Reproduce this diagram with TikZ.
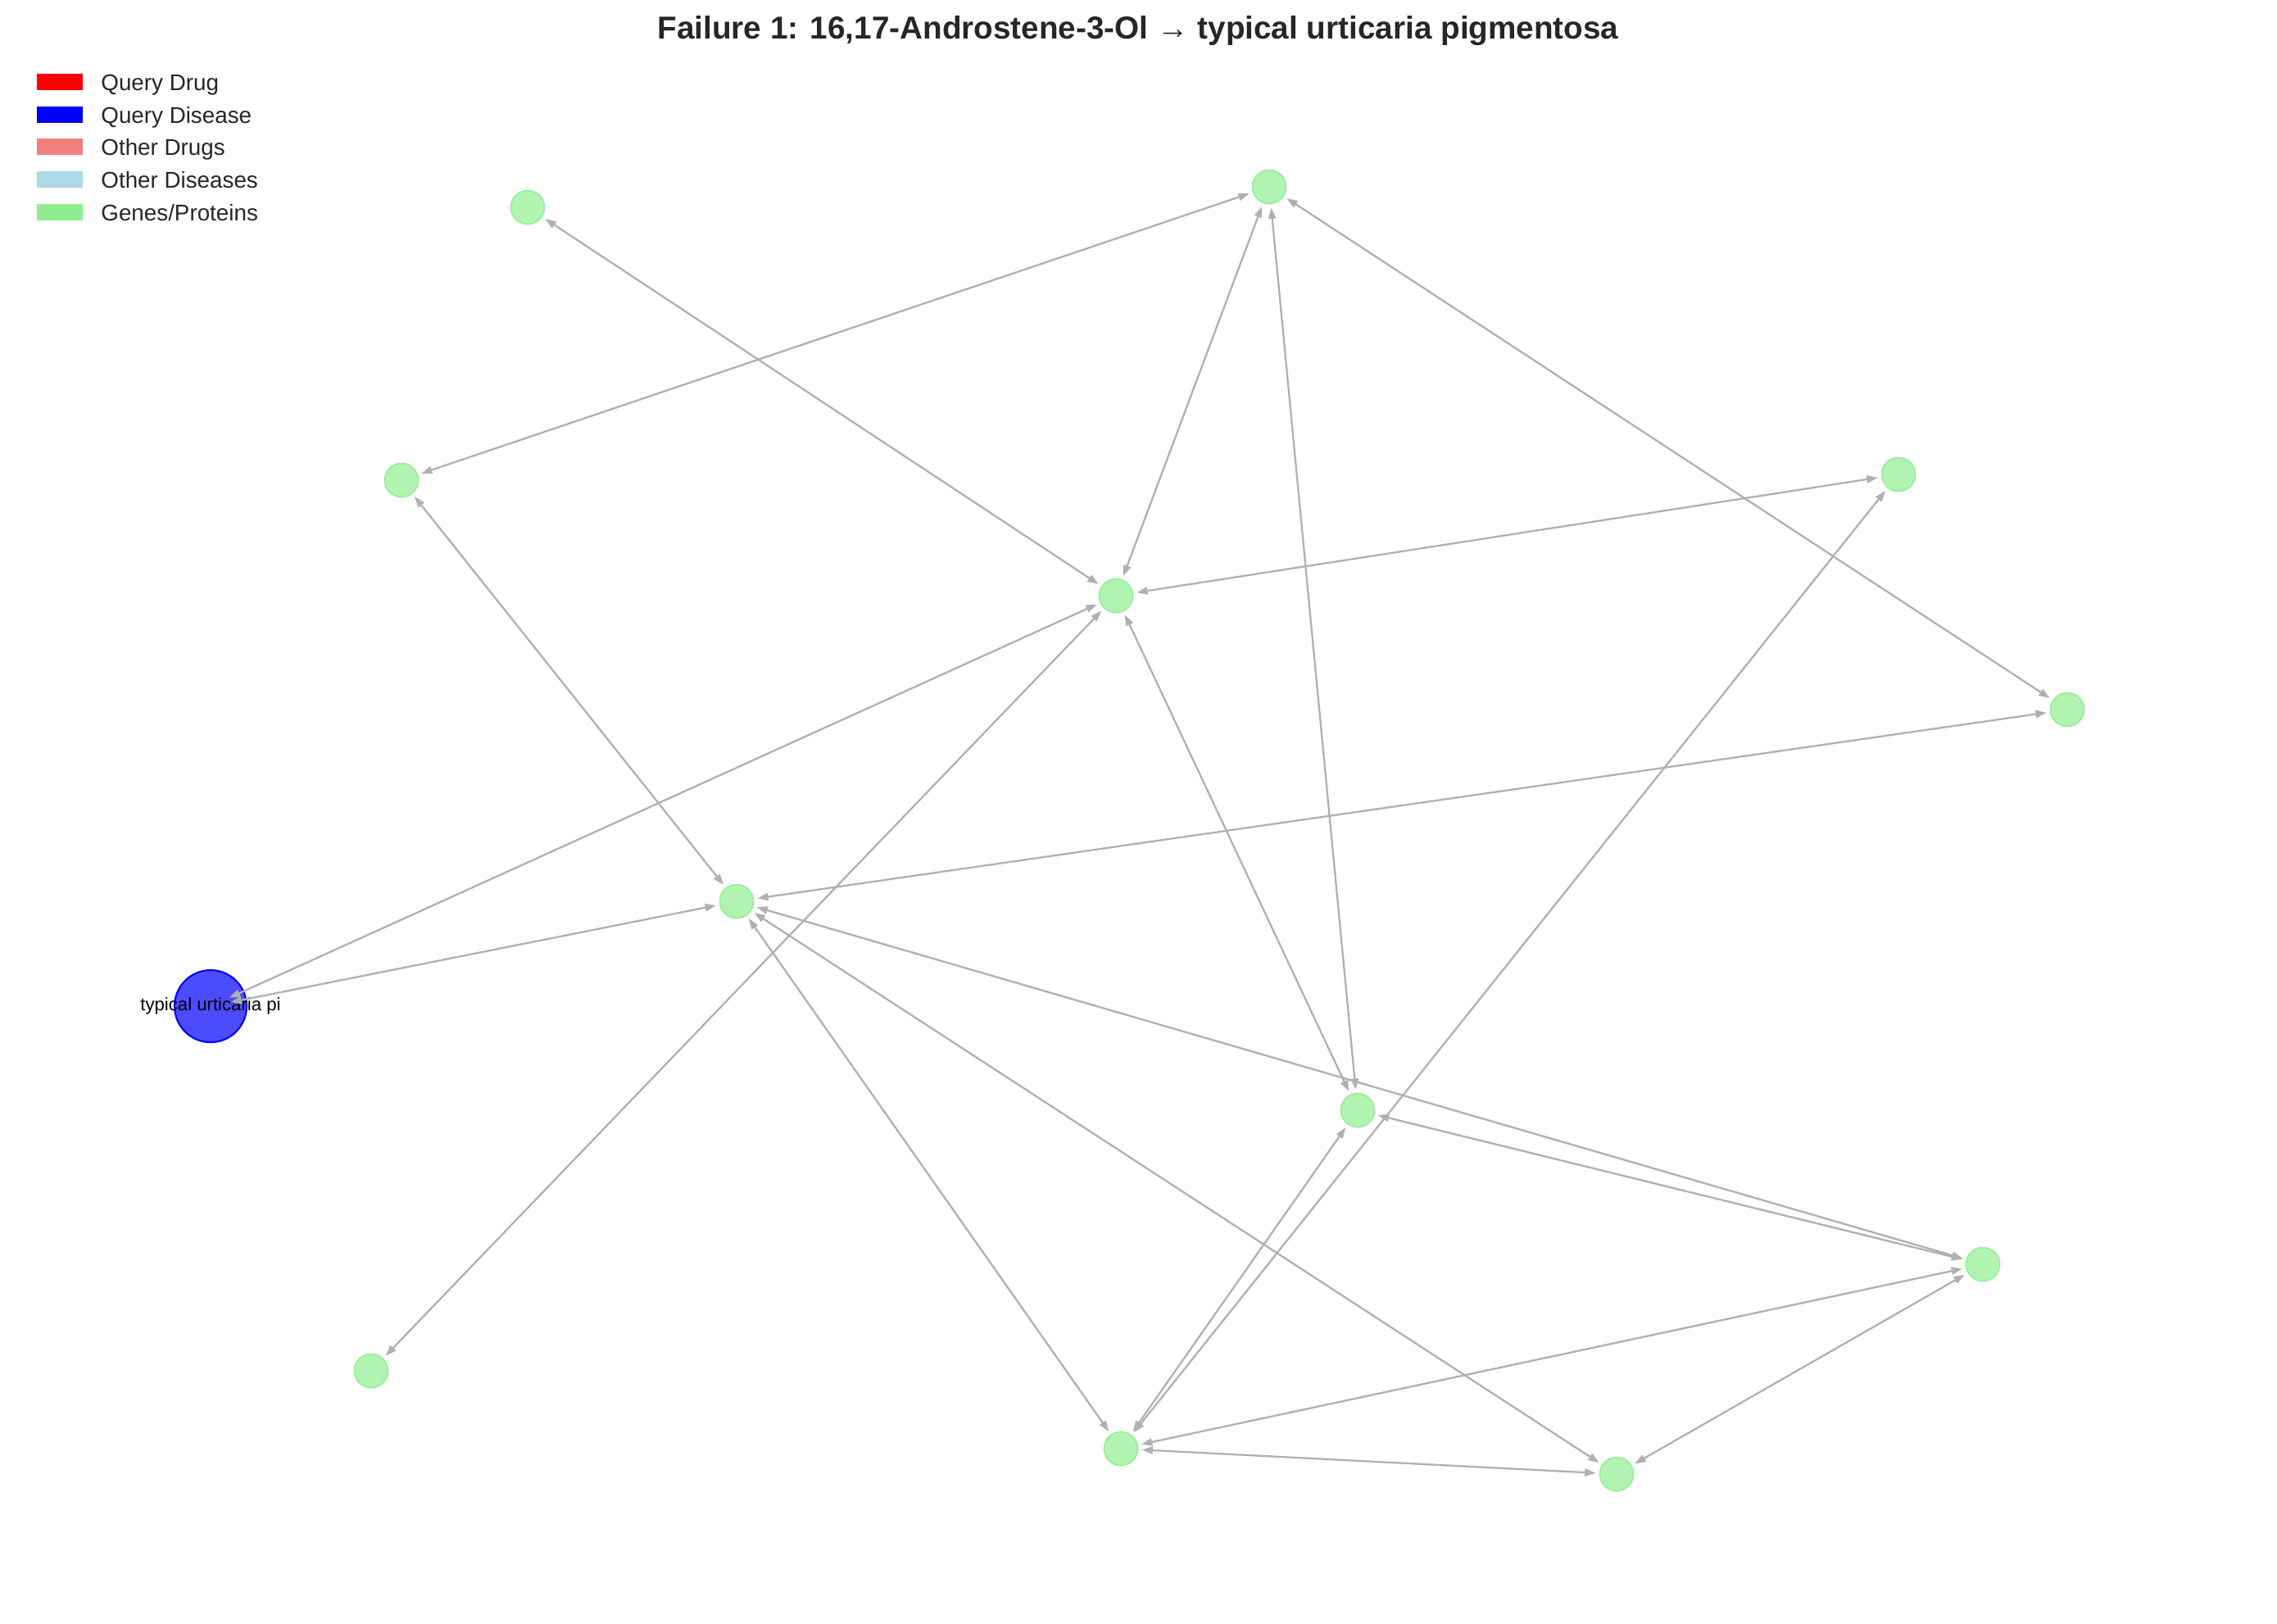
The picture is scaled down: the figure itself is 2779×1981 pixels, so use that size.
\documentclass[tikz,border=0pt]{standalone}
\usepackage{fontspec}
\setmainfont{Liberation Sans}
\usetikzlibrary{arrows.meta}
\definecolor{genegreen}{HTML}{90EE90}
\definecolor{querydrug}{HTML}{FF0000}
\definecolor{querydisease}{HTML}{0000FF}
\definecolor{otherdrug}{HTML}{F08080}
\definecolor{otherdisease}{HTML}{ADD8E6}
\definecolor{linkgray}{HTML}{B0B0B0}
\definecolor{textgray}{HTML}{262626}
\begin{document}
\begin{tikzpicture}[x=0.01cm, y=-0.01cm,
    gene/.style={circle, draw=genegreen, line width=0.5pt, fill=genegreen, fill opacity=0.7, draw opacity=0.9, minimum size=0.41cm, inner sep=0pt, outer sep=0.05cm},
    disease/.style={circle, draw=querydisease, line width=0.6pt, fill=querydisease, fill opacity=0.7, minimum size=0.88cm, inner sep=0pt},
    link/.style={draw=linkgray, line width=0.65pt, {Triangle[length=3.8pt,width=2.6pt]}-{Triangle[length=3.8pt,width=2.6pt]}},
    patch/.style={minimum width=0.56cm, minimum height=0.2cm, inner sep=0pt},
    keytext/.style={anchor=mid west, text=textgray, font=\fontsize{7.9}{9}\selectfont}]
    \useasboundingbox (0,0) rectangle (2779,1981);

    % title
    \node (title) at (1389,47) [anchor=base, text=textgray, font=\bfseries\fontsize{11}{13}\selectfont] {Failure 1: 16,17-Androstene-3-Ol → typical urticaria pigmentosa};

    % legend
    \node (k1) at (73,100) [patch, fill=querydrug] {};
    \node (k2) at (73,140) [patch, fill=querydisease] {};
    \node (k3) at (73,179) [patch, fill=otherdrug] {};
    \node (k4) at (73,219) [patch, fill=otherdisease] {};
    \node (k5) at (73,259) [patch, fill=genegreen] {};
    \node [keytext] at (111,101) {Query Drug};
    \node [keytext] at (111,141) {Query Disease};
    \node [keytext] at (111,180) {Other Drugs};
    \node [keytext] at (111,220) {Other Diseases};
    \node [keytext] at (111,260) {Genes/Proteins};

    % genes
    \node (g1) at (644,253) [gene] {};
    \node (g2) at (1549,228) [gene] {};
    \node (g3) at (490,586) [gene] {};
    \node (g4) at (2317,579) [gene] {};
    \node (g5) at (1362,727) [gene] {};
    \node (g6) at (2523,866) [gene] {};
    \node (g7) at (899,1100) [gene] {};
    \node (g8) at (1657,1355) [gene] {};
    \node (g9) at (2420,1543) [gene] {};
    \node (g10) at (453,1673) [gene] {};
    \node (g11) at (1368,1768) [gene] {};
    \node (g12) at (1973,1799) [gene] {};

    % query disease
    \node (dis) at (257,1228) [disease, label={[text=black, font=\fontsize{6.3}{7}\selectfont]center:typical urticaria pi}] {};

    \draw [link] (g1) -- (g5);
    \draw [link] (g2) -- (g3);
    \draw [link] (g2) -- (g5);
    \draw [link] (g2) -- (g8);
    \draw [link] (g2) -- (g6);
    \draw [link] (g3) -- (g7);
    \draw [link] (g4) -- (g5);
    \draw [link] (g4) -- (g11);
    \draw [link, shorten <=0.25cm] (dis.center) -- (g5);
    \draw [link, shorten <=0.25cm] (dis.center) -- (g7);
    \draw [link] (g5) -- (g10);
    \draw [link] (g5) -- (g8);
    \draw [link] (g6) -- (g7);
    \draw [link] (g7) -- (g9);
    \draw [link] (g7) -- (g11);
    \draw [link] (g7) -- (g12);
    \draw [link] (g8) -- (g9);
    \draw [link] (g8) -- (g11);
    \draw [link] (g9) -- (g11);
    \draw [link] (g9) -- (g12);
    \draw [link] (g11) -- (g12);
\end{tikzpicture}
\end{document}
